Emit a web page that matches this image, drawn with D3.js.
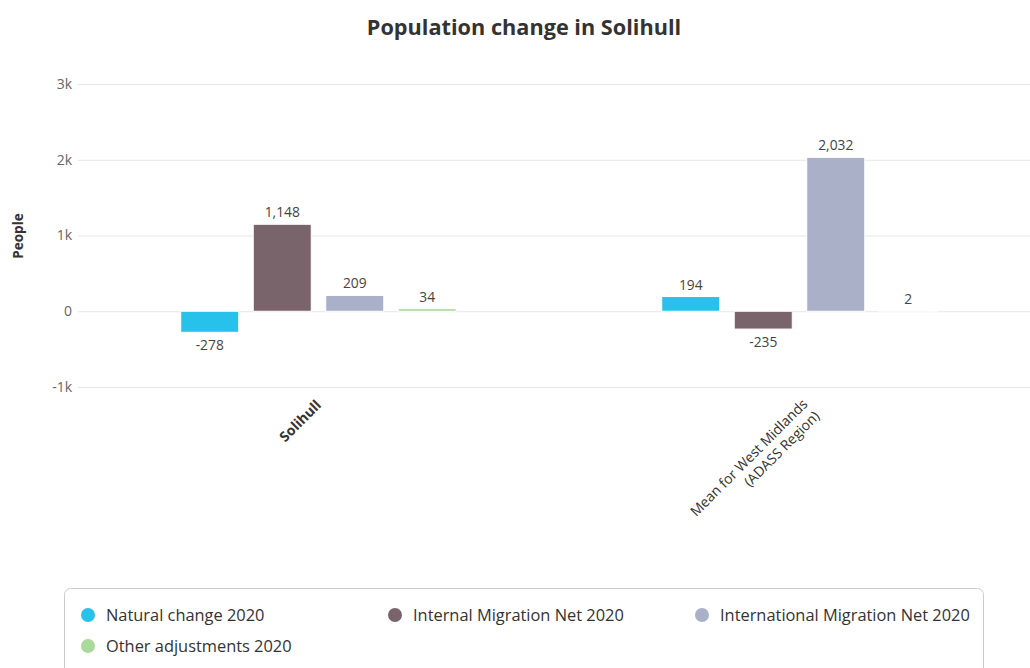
<!DOCTYPE html>
<html><head><meta charset="utf-8">
<script src="https://cdn.jsdelivr.net/npm/d3@7"></script>
<style>
body{margin:0;background:#fff;font-family:"Open Sans",sans-serif;}
svg text{font-family:"Open Sans",sans-serif;}
</style></head>
<body><svg id="c" width="1030" height="668"></svg>
<script>
const categories = ["Solihull", "Mean for West Midlands\n(ADASS Region)"];
const seriesNames = ["Natural change 2020", "Internal Migration Net 2020", "International Migration Net 2020", "Other adjustments 2020"];
const seriesColors = ["#27c1e9", "#7a646c", "#a9b0c7", "#a9d99b"];
const natural = [-278, 194];
const internal = [1148, -235];
const international = [209, 2032];
const other = [34, 2];
const yTicks = [-1000, 0, 1000, 2000, 3000];
const yTickLabels = ["-1k", "0", "1k", "2k", "3k"];

const series = [natural, internal, international, other];
const svg = d3.select("#c");
const W = 1030, H = 668;
const m = {left: 78, right: -10, top: 84, bottom: 281};

const x0 = d3.scaleBand().domain(categories).range([m.left, W - m.right]).paddingInner(0).paddingOuter(0);
const x1 = d3.scaleBand().domain(d3.range(series.length)).range([0, x0.bandwidth()]).paddingInner(0.2).paddingOuter(1.417);
const y = d3.scaleLinear().domain([-1000, 3000]).range([H - m.bottom, m.top]);

// title
svg.append("text").attr("x", 524).attr("y", 35).attr("text-anchor", "middle")
  .attr("font-size", 21.7).attr("font-weight", 700).attr("fill", "#333").text("Population change in Solihull");

// grid
const yAxis = d3.axisLeft(y).tickValues(yTicks).tickFormat((d, i) => yTickLabels[i]).tickSize(-(W - m.left)).tickPadding(6);
const ga = svg.append("g").attr("transform", `translate(${m.left},0)`).call(yAxis);
ga.select(".domain").remove();
ga.selectAll(".tick line").attr("stroke", "#e6e6e6").attr("stroke-width", 1);
ga.selectAll(".tick text").attr("fill", "#666").attr("font-size", 14);

// y label
svg.append("text").attr("transform", "translate(23,236) rotate(-90)").attr("text-anchor", "middle")
  .attr("font-size", 13.5).attr("font-weight", 700).attr("fill", "#333").text("People");

// bars
const fmt = v => d3.format(",")(v).replace("\u2212", "-");
categories.forEach((c, ci) => {
  series.forEach((s, si) => {
    const v = s[ci];
    const bx = x0(c) + x1(si);
    const bw = x1.bandwidth();
    svg.append("rect").attr("x", bx).attr("width", bw)
      .attr("y", y(Math.max(0, v))).attr("height", Math.abs(y(v) - y(0)))
      .attr("fill", seriesColors[si]).attr("stroke", "#fff").attr("stroke-width", 1);
    const ly = v >= 0 ? y(v) - 7 : y(v) + 18;
    svg.append("text").attr("x", bx + bw / 2).attr("y", ly).attr("text-anchor", "middle")
      .attr("font-size", 13.8).attr("fill", "#444").text(fmt(v));
  });
});

// x labels
const labelShift = [[3.5, 19], [21, 30]];
categories.forEach((c, ci) => {
  const cx = x0(c) + x0.bandwidth() / 2;
  const lines = c.split("\n");
  const g = svg.append("g").attr("transform", `translate(${cx + labelShift[ci][0]},${y(-1000) + labelShift[ci][1]}) rotate(-45)`);
  lines.forEach((ln, li) => {
    g.append("text").attr("x", 0).attr("y", (li - (lines.length - 1)) * 17).attr("text-anchor", "end")
      .attr("font-size", 14).attr("font-weight", ci === 0 ? 700 : 400).attr("fill", "#333").text(ln);
  });
});

// legend
svg.append("rect").attr("x", 64.5).attr("y", 588.5).attr("width", 919).attr("height", 100).attr("rx", 6)
  .attr("fill", "#fff").attr("stroke", "#ccc");
const legPos = [[88, 616], [395, 616], [702, 616], [88, 647]];
seriesNames.forEach((n, i) => {
  const [lx, ly] = legPos[i];
  svg.append("circle").attr("cx", lx).attr("cy", ly - 1).attr("r", 7).attr("fill", seriesColors[i]);
  svg.append("text").attr("x", lx + 18).attr("y", ly + 5).attr("font-size", 16.4).attr("fill", "#333").text(n);
});
</script></body></html>
